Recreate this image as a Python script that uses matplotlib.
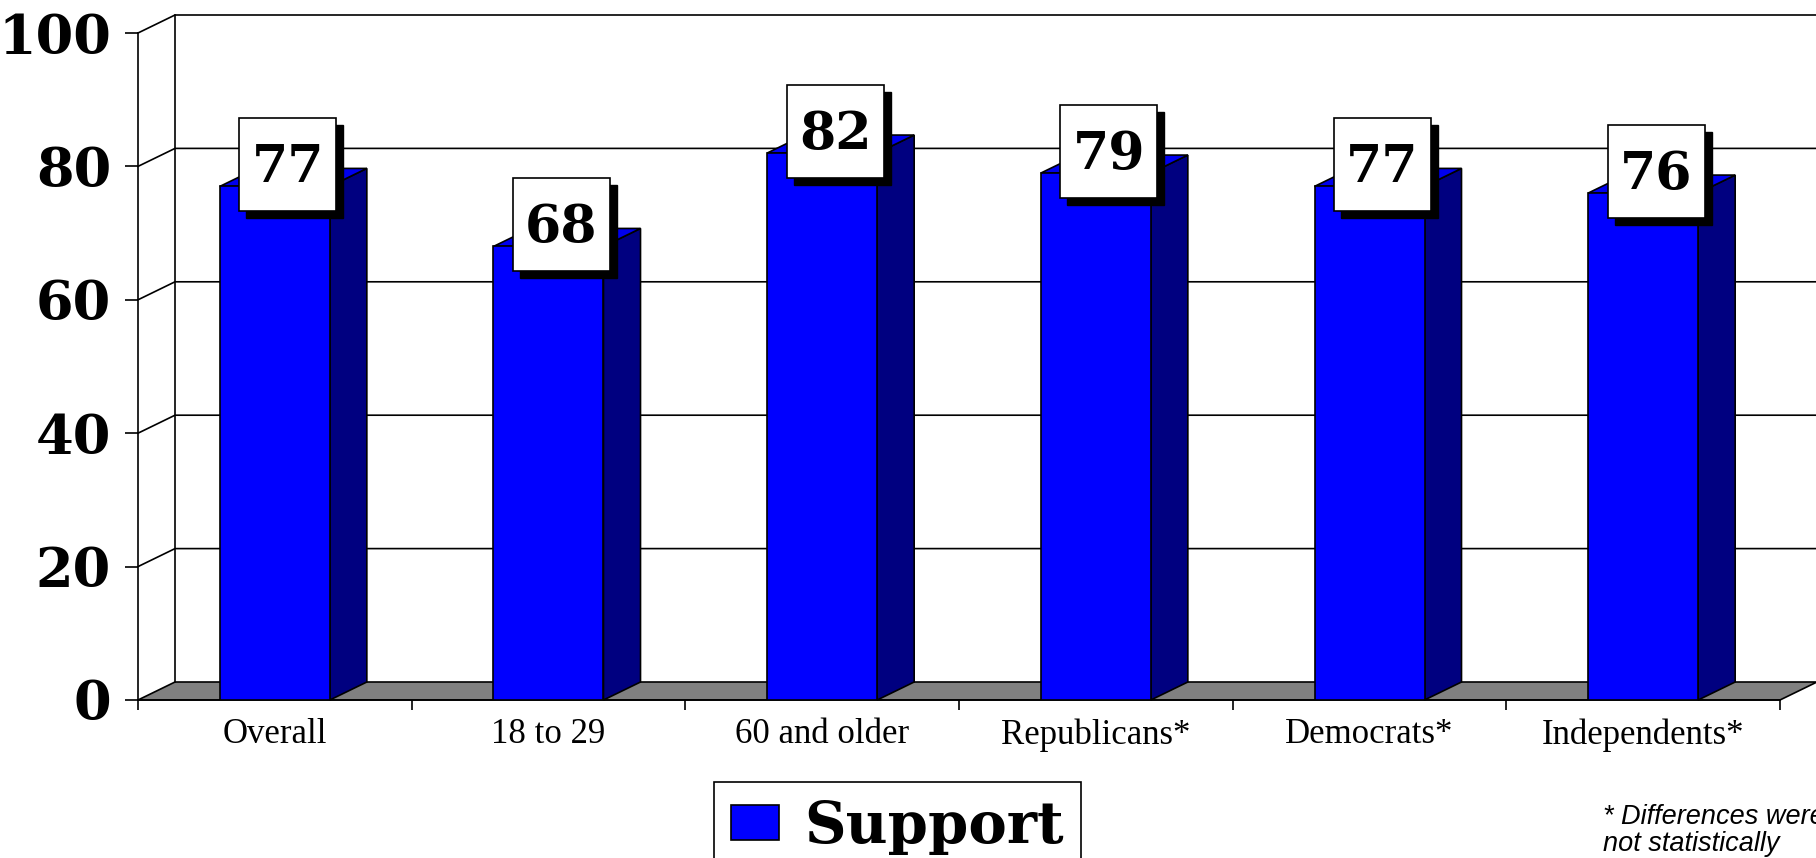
import numpy as np
import matplotlib
matplotlib.use('Agg')
import matplotlib.pyplot as plt
from matplotlib.patches import Polygon, Rectangle

# Data
categories = ['Overall', '18 to 29', '60 and older', 'Republicans*', 'Democrats*', 'Independents*']
support = [77, 68, 82, 79, 77, 76]
yticks = [0, 20, 40, 60, 80, 100]
footnote = '* Differences were\nnot statistically'

W, H, DPI = 1816, 858, 100
fig = plt.figure(figsize=(W / DPI, H / DPI), dpi=DPI)
ax = fig.add_axes([138 / W, (H - 700) / H, 1642 / W, 667 / H])
ax.set_xlim(0, len(categories))
ax.set_ylim(0, 100)

# pixel -> data conversions for the fake 3D depth
px_x = len(categories) / 1642.0
px_y = 100 / 667.0
ddx, ddy = 37 * px_x, 18 * px_y
bar_w = 110 * px_x
lw = 1.2

# floor
n = len(categories)
ax.add_patch(Polygon([(0, 0), (n, 0), (n + ddx, ddy), (ddx, ddy)], closed=True,
                     facecolor='#808080', edgecolor='black', lw=lw, zorder=1, clip_on=False))

# back wall + gridlines
ax.plot([ddx, ddx], [ddy, 100 + ddy], color='black', lw=lw, zorder=1.5, clip_on=False)
for v in yticks[1:]:
    ax.plot([0, ddx, n + ddx], [v, v + ddy, v + ddy], color='black', lw=lw,
            zorder=1.5, clip_on=False)

# bars
for i, v in enumerate(support):
    x0 = i + 0.5 - bar_w / 2
    x1 = i + 0.5 + bar_w / 2
    front = Rectangle((x0, 0), bar_w, v, facecolor='#0000FF', edgecolor='black',
                      lw=lw, zorder=3, label='Support' if i == 0 else None)
    side = Polygon([(x1, 0), (x1 + ddx, ddy), (x1 + ddx, v + ddy), (x1, v)],
                   facecolor='#000080', edgecolor='black', lw=lw, zorder=3, clip_on=False)
    top = Polygon([(x0, v), (x1, v), (x1 + ddx, v + ddy), (x0 + ddx, v + ddy)],
                  facecolor='#0000EE', edgecolor='black', lw=lw, zorder=3, clip_on=False)
    ax.add_patch(side)
    ax.add_patch(top)
    ax.add_patch(front)

    # value label box with shadow
    cx = i + 0.5 + 13 * px_x
    cy = v + 3.3
    bw, bh = 97 * px_x, 93 * px_y
    ax.add_patch(Rectangle((cx - bw / 2 + 7 * px_x, cy - bh / 2 - 7 * px_y), bw, bh,
                           facecolor='black', edgecolor='black', zorder=4, clip_on=False))
    ax.add_patch(Rectangle((cx - bw / 2, cy - bh / 2), bw, bh, facecolor='white',
                           edgecolor='black', lw=lw, zorder=5, clip_on=False))
    ax.text(cx, cy - 18 * px_y, str(v), ha='center', va='baseline',
            fontsize=37.5, fontweight='bold', family='DejaVu Serif', zorder=6)

# spines and ticks
for s in ['top', 'right']:
    ax.spines[s].set_visible(False)
for s in ['left', 'bottom']:
    ax.spines[s].set_linewidth(lw)
    ax.spines[s].set_zorder(2.5)

ax.set_yticks(yticks)
ax.set_yticklabels([str(t) for t in yticks], fontsize=39, fontweight='bold',
                   family='DejaVu Serif')
ax.tick_params(axis='y', direction='out', length=9.4, width=lw, pad=10)

ax.set_xticks(np.arange(n + 1))
ax.set_xticklabels([])
ax.set_xticks(np.arange(n) + 0.5, minor=True)
ax.set_xticklabels(categories, minor=True, fontsize=25, family='Liberation Serif')
ax.tick_params(axis='x', which='major', direction='out', length=7.2, width=lw)
ax.tick_params(axis='x', which='minor', length=0, pad=13)

# legend (cut off at the bottom, as in the original)
leg = fig.legend(loc='upper left', bbox_to_anchor=(714 / W, 1 - 782 / H),
                 prop={'family': 'DejaVu Serif', 'weight': 'bold', 'size': 41.5},
                 fancybox=False, edgecolor='black', framealpha=1,
                 handlelength=0.82, handleheight=0.56, handletextpad=0.45,
                 borderpad=0.3, borderaxespad=0)
leg.get_frame().set_linewidth(lw)

fig.text(1603 / W, 1 - 804 / H, footnote, ha='left', va='top', fontsize=19.5,
         style='italic', family='Liberation Sans', linespacing=1.05)

fig.savefig('out.png', dpi=DPI)
